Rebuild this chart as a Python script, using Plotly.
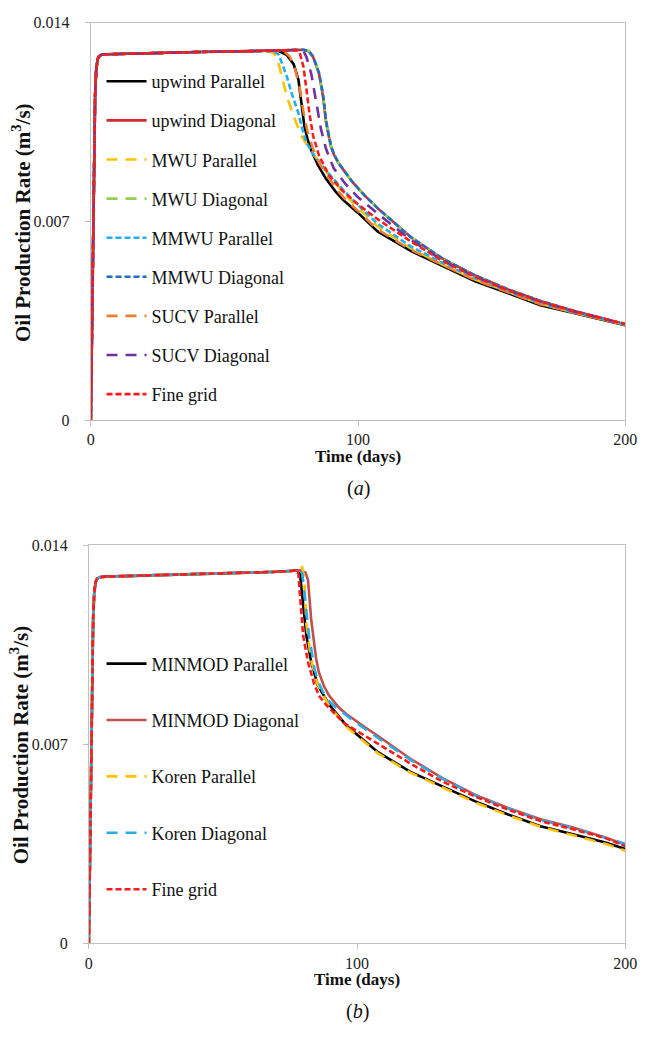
import plotly.graph_objects as go

# ---------------- shared start-up (ramp + plateau) ----------------
T_RAMP = [0, 0.4, 0.8, 1.2, 1.6, 2.0, 2.5, 3, 4, 6, 10, 20, 40, 60]
V_RAMP_A = [0, 0.0030, 0.0062, 0.0093, 0.0114, 0.0123, 0.01270, 0.01281, 0.01287, 0.01289,
            0.01290, 0.01293, 0.01297, 0.01300]
V_RAMP_B = [0, 0.0030, 0.0062, 0.0093, 0.0114, 0.0123, 0.01270, 0.01281, 0.01287, 0.01289,
            0.01290, 0.01293, 0.01298, 0.01303]

# ---------------- panel (a) ----------------
A_NAMES = ["upwind Parallel", "upwind Diagonal", "MWU Parallel", "MWU Diagonal",
           "MMWU Parallel", "MMWU Diagonal", "SUCV Parallel", "SUCV Diagonal", "Fine grid"]

A_T = {
    "upwind Parallel": [65, 70, 73.4, 75.9, 77.7, 78.8, 79.9, 81.1, 82.5, 85.0, 88.0, 91.6, 94.5, 100,
                        107.3, 119.7, 131.8, 143.8, 156.2, 168.2, 180.3, 200],
    "upwind Diagonal": [65, 75, 79.6, 81.5, 83.2, 85.4, 86.9, 88.0, 89.0, 89.8, 91.0, 92.7, 97.8,
                        102.6, 107.3, 119.7, 131.8, 143.8, 156.2, 168.2, 180.3, 200],
    "MWU Parallel": [65, 68, 69.7, 71.5, 73.4, 75.9, 78.8, 81.8, 85.4, 89.1, 95, 100, 107.3, 119.7,
                     131.8, 143.8, 156.2, 168.2, 180.3, 200],
    "MWU Diagonal": [65, 75, 79.8, 81.7, 83.4, 85.5, 87.0, 88.1, 89.1, 89.9, 91.1, 92.8, 97.8,
                     102.6, 107.3, 119.7, 131.8, 143.8, 156.2, 168.2, 180.3, 200],
    "MMWU Parallel": [65, 69, 70.4, 73.4, 75.2, 77.7, 78.8, 80.7, 83.6, 88.0, 95, 100, 107.3, 119.7,
                      131.8, 143.8, 156.2, 168.2, 180.3, 200],
    "MMWU Diagonal": [65, 75, 79.7, 81.6, 83.3, 85.5, 87.0, 88.1, 89.1, 89.9, 91.1, 92.8, 97.8,
                      102.6, 107.3, 119.7, 131.8, 143.8, 156.2, 168.2, 180.3, 200],
    "SUCV Parallel": [65, 72, 74.5, 76.5, 78.2, 79.5, 81.0, 83.0, 85.5, 88.5, 92, 95, 100, 107.3,
                      119.7, 131.8, 143.8, 156.2, 168.2, 180.3, 200],
    "SUCV Diagonal": [65, 78, 79.6, 80.7, 82.5, 84.3, 86.1, 88.0, 90.9, 95.3, 100, 107.3, 119.7,
                      131.8, 143.8, 156.2, 168.2, 180.3, 200],
    "Fine grid": [65, 75, 77, 78.1, 79.6, 80.7, 81.8, 83.2, 85.4, 89.1, 94.2, 100, 107.3, 119.7,
                  131.8, 143.8, 156.2, 168.2, 180.3, 200],
}
A_V = {
    "upwind Parallel": [0.01301, 0.01302, 0.01286, 0.01254, 0.01199, 0.01116, 0.01036, 0.00990,
                        0.00950, 0.00898, 0.00850, 0.00805, 0.00775, 0.00730, 0.00665, 0.00596,
                        0.00541, 0.00489, 0.00447, 0.00405, 0.00378, 0.00334],
    "upwind Diagonal": [0.01301, 0.01303, 0.01305, 0.01300, 0.01279, 0.01220, 0.01140, 0.01050,
                        0.00995, 0.00965, 0.00935, 0.00905, 0.00840, 0.00790, 0.00747, 0.00645,
                        0.00568, 0.00510, 0.00460, 0.00420, 0.00386, 0.00338],
    "MWU Parallel": [0.01301, 0.01295, 0.01279, 0.01209, 0.01140, 0.01071, 0.01001, 0.00956,
                     0.00908, 0.00863, 0.00795, 0.00748, 0.00682, 0.00605, 0.00547, 0.00495,
                     0.00451, 0.00410, 0.00380, 0.00336],
    "MWU Diagonal": [0.01301, 0.01303, 0.01305, 0.01300, 0.01279, 0.01220, 0.01140, 0.01050,
                     0.00995, 0.00965, 0.00935, 0.00905, 0.00840, 0.00790, 0.00747, 0.00645,
                     0.00568, 0.00510, 0.00460, 0.00420, 0.00386, 0.00338],
    "MMWU Parallel": [0.01301, 0.01297, 0.01286, 0.01209, 0.01150, 0.01081, 0.01036, 0.00977,
                      0.00932, 0.00880, 0.00805, 0.00758, 0.00692, 0.00612, 0.00553, 0.00500,
                      0.00453, 0.00412, 0.00381, 0.00337],
    "MMWU Diagonal": [0.01301, 0.01303, 0.01305, 0.01300, 0.01279, 0.01220, 0.01140, 0.01050,
                      0.00995, 0.00965, 0.00935, 0.00905, 0.00840, 0.00790, 0.00747, 0.00645,
                      0.00568, 0.00510, 0.00460, 0.00420, 0.00386, 0.00338],
    "SUCV Parallel": [0.01301, 0.01302, 0.01280, 0.01235, 0.01170, 0.01090, 0.01020, 0.00960,
                      0.00905, 0.00860, 0.00812, 0.00780, 0.00736, 0.00672, 0.00600, 0.00545,
                      0.00493, 0.00450, 0.00408, 0.00380, 0.00335],
    "SUCV Diagonal": [0.01301, 0.01304, 0.01300, 0.01279, 0.01220, 0.01116, 0.01026, 0.00956,
                      0.00887, 0.00832, 0.00785, 0.00728, 0.00635, 0.00562, 0.00506, 0.00457,
                      0.00418, 0.00384, 0.00338],
    "Fine grid": [0.01301, 0.01303, 0.01304, 0.01296, 0.01244, 0.01164, 0.01081, 0.01001,
                  0.00932, 0.00863, 0.00808, 0.00760, 0.00708, 0.00630, 0.00560, 0.00505,
                  0.00457, 0.00418, 0.00385, 0.00339],
}

# ---------------- panel (b) ----------------
B_NAMES = ["MINMOD Parallel", "MINMOD Diagonal", "Koren Parallel", "Koren Diagonal", "Fine grid"]

B_T = {
    "MINMOD Parallel": [70, 75, 77.5, 78.7, 79.9, 81.1, 82.9, 85.3, 89.6, 96.2, 107.8, 119.9, 132.0,
                        144.1, 156.3, 168.4, 180.5, 192.6, 200],
    "MINMOD Diagonal": [70, 75, 79, 80.8, 81.7, 82.9, 83.8, 84.7, 85.7, 86.7, 87.7, 89.5, 91.5,
                        93.2, 96.0, 99.0, 102.3, 107.8, 119.9, 132.0, 144.1, 156.3, 168.4, 180.5,
                        192.6, 200],
    "Koren Parallel": [70, 75, 78, 79.5, 80.3, 81.1, 82.9, 85.3, 89.6, 96.2, 107.8, 119.9, 132.0,
                       144.1, 156.3, 168.4, 180.5, 192.6, 200],
    "Koren Diagonal": [70, 75, 78.5, 79.6, 80.8, 82.1, 84.1, 85.5, 87.2, 89.5, 92.0, 99.3, 107.8,
                       119.9, 132.0, 144.1, 156.3, 168.4, 180.5, 192.6, 200],
    "Fine grid": [70, 75, 77, 78.1, 78.9, 79.9, 81.7, 84.1, 86.0, 88.4, 95.0, 107.8, 119.9, 132.0,
                  144.1, 156.3, 168.4, 180.5, 192.6, 200],
}
B_V = {
    "MINMOD Parallel": [0.01306, 0.01309, 0.01311, 0.01300, 0.01196, 0.01081, 0.00989, 0.00908,
                        0.00839, 0.00764, 0.00672, 0.00603, 0.00551, 0.00499, 0.00453, 0.00412,
                        0.00384, 0.00355, 0.00332],
    "MINMOD Diagonal": [0.01306, 0.01309, 0.01311, 0.01303, 0.01277, 0.01138, 0.01065, 0.01003,
                        0.00955, 0.00925, 0.00903, 0.00872, 0.00847, 0.00829, 0.00806, 0.00785,
                        0.00764, 0.00729, 0.00649, 0.00580, 0.00522, 0.00476, 0.00436, 0.00407,
                        0.00372, 0.00347],
    "Koren Parallel": [0.01306, 0.01309, 0.01315, 0.01322, 0.01280, 0.01120, 0.00995, 0.00910,
                       0.00835, 0.00760, 0.00668, 0.00600, 0.00547, 0.00495, 0.00450, 0.00410,
                       0.00380, 0.00350, 0.00326],
    "Koren Diagonal": [0.01306, 0.01309, 0.01311, 0.01300, 0.01196, 0.01081, 0.00966, 0.00920,
                       0.00885, 0.00852, 0.00830, 0.00778, 0.00722, 0.00645, 0.00578, 0.00520,
                       0.00474, 0.00434, 0.00405, 0.00372, 0.00350],
    "Fine grid": [0.01306, 0.01309, 0.01311, 0.01300, 0.01196, 0.01081, 0.00989, 0.00908,
                  0.00868, 0.00839, 0.00775, 0.00700, 0.00632, 0.00568, 0.00516, 0.00470,
                  0.00430, 0.00401, 0.00370, 0.00342],
}

# ---------------- styles ----------------
LONG = "11px,8px"
SHORT = "6px,3px"
A_STYLE = {
    "upwind Parallel": ("#000000", "solid"),
    "upwind Diagonal": ("#D42A2A", "solid"),
    "MWU Parallel": ("#FFC000", LONG),
    "MWU Diagonal": ("#92D050", LONG),
    "MMWU Parallel": ("#1FB0EE", SHORT),
    "MMWU Diagonal": ("#1F6FC0", SHORT),
    "SUCV Parallel": ("#ED7D31", LONG),
    "SUCV Diagonal": ("#7030A0", LONG),
    "Fine grid": ("#FF1A1A", SHORT),
}
B_STYLE = {
    "MINMOD Parallel": ("#000000", "solid"),
    "MINMOD Diagonal": ("#C0504D", "solid"),
    "Koren Parallel": ("#FFC000", LONG),
    "Koren Diagonal": ("#29ACE6", LONG),
    "Fine grid": ("#FF1A1A", SHORT),
}

SERIF = "Liberation Serif, Times New Roman, serif"
W, H = 649, 1037

fig = go.Figure()

for i, n in enumerate(A_NAMES):
    c, d = A_STYLE[n]
    fig.add_trace(go.Scatter(
        x=T_RAMP + A_T[n], y=V_RAMP_A + A_V[n], mode="lines", name=n,
        line=dict(color=c, dash=d, width=2.6), xaxis="x", yaxis="y",
        legend="legend", legendgroup="a%d" % i))

for i, n in enumerate(B_NAMES):
    c, d = B_STYLE[n]
    fig.add_trace(go.Scatter(
        x=T_RAMP + B_T[n], y=V_RAMP_B + B_V[n], mode="lines", name=n,
        line=dict(color=c, dash=d, width=2.6), xaxis="x2", yaxis="y2",
        legend="legend2", legendgroup="b%d" % i))

axis_common = dict(showline=True, linecolor="#BFBFBF", linewidth=1, mirror=True,
                   ticks="outside", ticklen=5, tickcolor="#BFBFBF", showgrid=False,
                   zeroline=False, tickfont=dict(family=SERIF, size=16, color="#222222"))

fig.update_layout(
    width=W, height=H, margin=dict(l=0, r=0, t=0, b=0),
    paper_bgcolor="white", plot_bgcolor="white",
    xaxis=dict(domain=[89 / W, 637 / W], range=[0, 200], tickvals=[0, 100, 200],
               anchor="y", **axis_common),
    yaxis=dict(domain=[1 - 419 / H, 1 - 15 / H], range=[0, 0.014],
               tickvals=[0, 0.007, 0.014], ticktext=["0", "0.007", "0.014"],
               anchor="x", ticklabelstandoff=12, **axis_common),
    xaxis2=dict(domain=[87 / W, 637 / W], range=[0, 200], tickvals=[0, 100, 200],
                anchor="y2", **axis_common),
    yaxis2=dict(domain=[1 - 951 / H, 1 - 546 / H], range=[0, 0.014],
                tickvals=[0, 0.007, 0.014], ticktext=["0", "0.007", "0.014"],
                anchor="x2", ticklabelstandoff=12, **axis_common),
    legend=dict(x=100 / W, y=1 - 56 / H, xanchor="left", yanchor="top",
                bgcolor="rgba(0,0,0,0)", font=dict(family=SERIF, size=18, color="#111111"),
                traceorder="grouped", tracegroupgap=12.7, itemwidth=40),
    legend2=dict(x=100 / W, y=1 - 648 / H, xanchor="left", yanchor="top",
                 bgcolor="rgba(0,0,0,0)", font=dict(family=SERIF, size=18, color="#111111"),
                 traceorder="grouped", tracegroupgap=30, itemwidth=40),
    showlegend=True,
)

ytitle = "Oil Production Rate (m<sup>3</sup>/s)"
ann = [
    dict(text="<b>Time (days)</b>", x=363 / W, y=1 - 456 / H),
    dict(text="<b>Time (days)</b>", x=362 / W, y=1 - 988 / H),
    dict(text="(<i>a</i>)", x=363 / W, y=1 - 489 / H, size=20),
    dict(text="(<i>b</i>)", x=362 / W, y=1 - 1020 / H, size=20),
    dict(text="<b>" + ytitle + "</b>", x=18 / W, y=1 - 218 / H, angle=-90, size=21),
    dict(text="<b>" + ytitle + "</b>", x=16 / W, y=1 - 749 / H, angle=-90, size=21),
]
for a in ann:
    fig.add_annotation(text=a["text"], x=a["x"], y=a["y"], xref="paper", yref="paper",
                       xanchor="center", yanchor="middle", showarrow=False,
                       textangle=a.get("angle", 0),
                       font=dict(family=SERIF, size=a.get("size", 17), color="#111111"))

fig.write_html("out.html")
